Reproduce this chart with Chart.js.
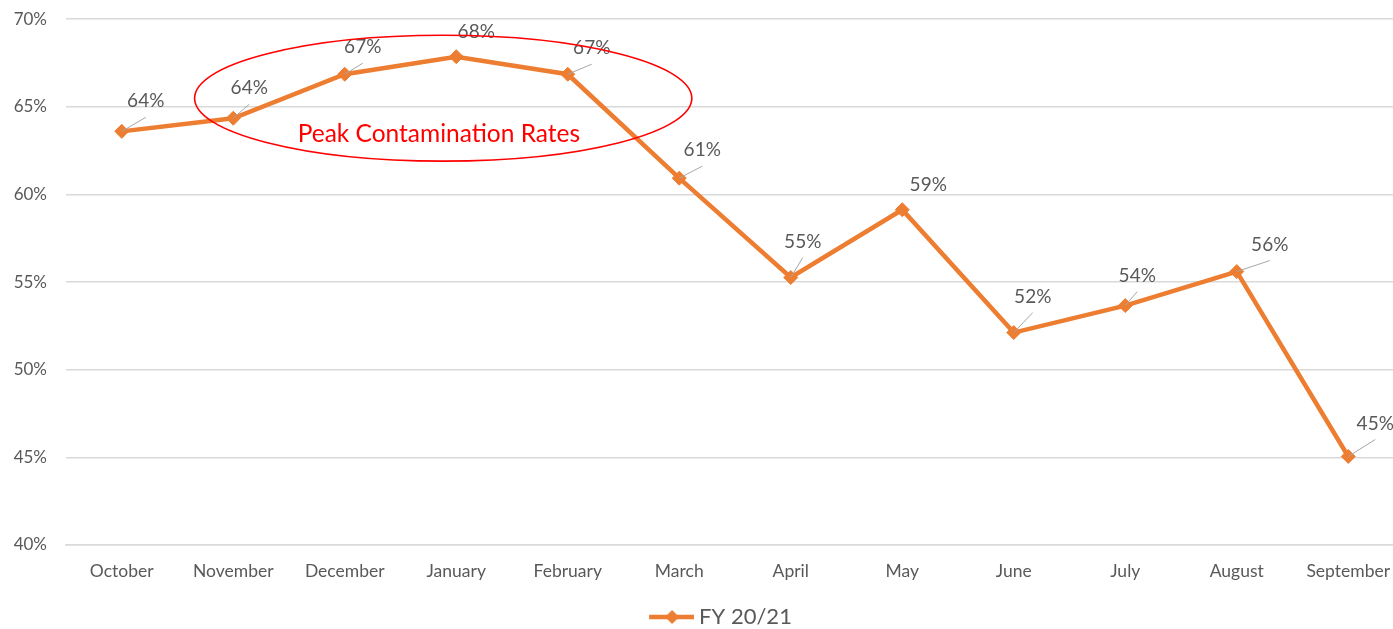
<!DOCTYPE html>
<html>
<head>
<meta charset="utf-8">
<script src="https://cdn.jsdelivr.net/npm/chart.js@4/dist/chart.umd.min.js"></script>
<style>
  html, body { margin: 0; padding: 0; background: #ffffff; overflow: hidden; }
  #wrap { position: absolute; left: 0; top: -10px; width: 1412px; height: 639px; }
</style>
</head>
<body>
<div id="wrap"><canvas id="c" width="1412" height="639"></canvas></div>
<script>
// ---- data ----
const months = ['October','November','December','January','February','March','April','May','June','July','August','September'];
const rates = [63.6, 64.35, 66.86, 67.86, 66.86, 60.93, 55.26, 59.13, 52.12, 53.66, 55.6, 45.05];
const rateLabels = ['64%','64%','67%','68%','67%','61%','55%','59%','52%','54%','56%','45%'];
const seriesName = 'FY 20/21';
const yMin = 40;
const yMax = 70;
const yStep = 5;
const calloutText = 'Peak Contamination Rates';

// ---- label placement (style) ----
const labelOffsets = [[24,-30],[16,-30],[18,-27],[20,-25],[24,-26],[23,-28],[12,-36],[26,-25],[19,-36],[12,-30],[33,-27],[27,-33]];
const showLeader = [true,true,true,false,true,true,true,false,true,true,true,true];

const ORANGE = '#ED7D31';
const TEXT = '#595959';
const GRID = '#D9D9D9';
Chart.defaults.font.family = 'Lato, "Open Sans", sans-serif';

// legend marker image: line with diamond
const legImg = document.createElement('canvas');
legImg.width = 80; legImg.height = 18;
(function(){
  const g = legImg.getContext('2d');
  g.strokeStyle = ORANGE; g.lineWidth = 4.5; g.lineCap = 'butt';
  g.beginPath(); g.moveTo(35, 9); g.lineTo(80, 9); g.stroke();
  g.fillStyle = ORANGE;
  g.beginPath(); g.moveTo(58, 2); g.lineTo(65, 9); g.lineTo(58, 16); g.lineTo(51, 9); g.closePath(); g.fill();
})();

const annotPlugin = {
  id: 'annot',
  afterDatasetsDraw(chart) {
    const ctx = chart.ctx;
    const xs = chart.scales.x, ys = chart.scales.y;
    const meta = chart.getDatasetMeta(0);
    ctx.save();
    ctx.font = '19px Lato, "Open Sans", sans-serif';
    ctx.textAlign = 'center';
    ctx.textBaseline = 'middle';
    meta.data.forEach((pt, i) => {
      const lx = pt.x + labelOffsets[i][0];
      const ly = pt.y + labelOffsets[i][1];
      if (showLeader[i]) {
        ctx.strokeStyle = '#A6A6A6';
        ctx.lineWidth = 1;
        ctx.beginPath();
        ctx.moveTo(pt.x, pt.y);
        ctx.lineTo(lx, ly + 16);
        ctx.stroke();
      }
      ctx.fillStyle = TEXT;
      ctx.fillText(rateLabels[i], lx, ly);
    });
    // callout ellipse
    const cx = xs.getPixelForValue(2.883);
    const cy = ys.getPixelForValue(65.49);
    const rx = xs.getPixelForValue(2.883 + 2.23) - cx;
    const ry = cy - ys.getPixelForValue(65.49 + 3.59);
    ctx.strokeStyle = '#FF0000';
    ctx.lineWidth = 1.6;
    ctx.beginPath();
    ctx.ellipse(cx, cy, rx, ry, 0, 0, Math.PI * 2);
    ctx.stroke();
    ctx.fillStyle = '#FF0000';
    ctx.font = '24.5px Lato, "Open Sans", sans-serif';
    ctx.fillText(calloutText, xs.getPixelForValue(2.844), ys.getPixelForValue(63.44));
    ctx.restore();
  }
};

new Chart(document.getElementById('c'), {
  type: 'line',
  data: {
    labels: months,
    datasets: [{
      label: seriesName,
      data: rates,
      borderColor: ORANGE,
      backgroundColor: ORANGE,
      borderWidth: 4.5,
      pointStyle: 'rectRot',
      pointRadius: 7,
      pointBorderWidth: 1,
      pointBackgroundColor: ORANGE,
      pointBorderColor: ORANGE,
      tension: 0,
      fill: false
    }]
  },
  options: {
    responsive: false,
    animation: false,
    devicePixelRatio: 1,
    layout: { padding: { top: 8, right: 0, left: 0, bottom: -9 } },
    plugins: {
      tooltip: { enabled: false },
      legend: {
        position: 'bottom',
        labels: {
          usePointStyle: true,
          pointStyle: legImg,
          pointStyleWidth: 68,
          color: TEXT,
          font: { size: 22 },
          padding: 6
        }
      }
    },
    scales: {
      x: {
        offset: true,
        grid: { display: false, drawTicks: false },
        border: { display: true, color: GRID, width: 1.5 },
        ticks: { color: TEXT, font: { size: 17.5 }, padding: 16, maxRotation: 0, autoSkip: false },
        afterFit(s) { s.height = 55; }
      },
      y: {
        min: yMin, max: yMax,
        ticks: { stepSize: yStep, color: TEXT, font: { size: 17 }, padding: 19, callback: v => v + '%' },
        grid: { color: GRID, lineWidth: 1.5, drawTicks: false },
        border: { display: false },
        afterFit(s) { s.width = 66; }
      }
    }
  },
  plugins: [annotPlugin]
});
</script>
</body>
</html>
